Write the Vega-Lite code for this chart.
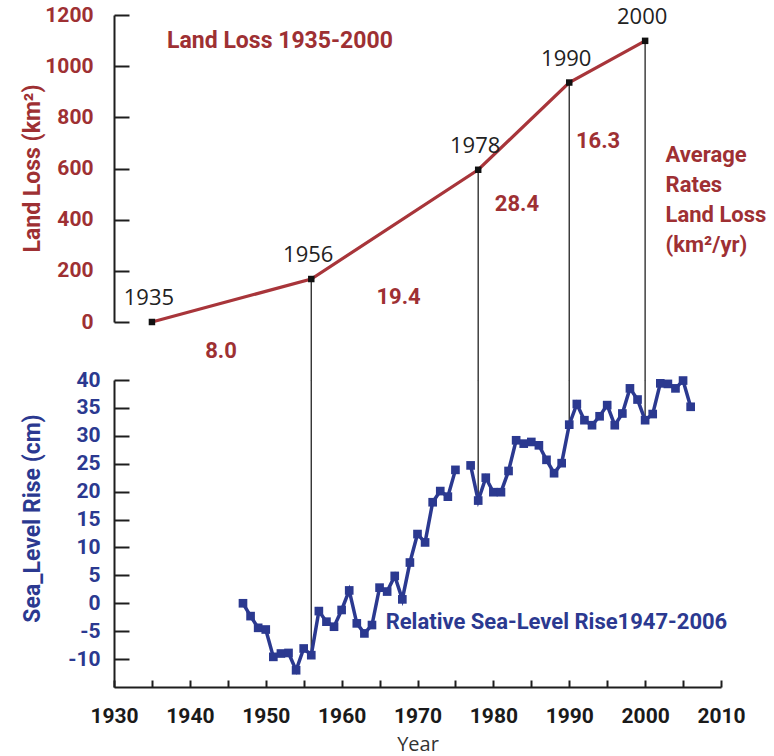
{
  "$schema": "https://vega.github.io/schema/vega-lite/v6.json",
  "autosize": {"type": "none"},
  "padding": {"left": 114, "top": 15, "right": 53, "bottom": 69},
  "width": 607,
  "height": 672,
  "background": "white",
  "config": {"view": {"stroke": null}, "font": "Roboto"},
  "datasets": {
    "landLoss": [
      {"year": 1935, "loss": 0},
      {"year": 1956, "loss": 168},
      {"year": 1978, "loss": 595},
      {"year": 1990, "loss": 936},
      {"year": 2000, "loss": 1099}
    ],
    "rates": [
      {"from": 1935, "to": 1956, "rate": 8.0, "year": 1944.1, "loss": -113},
      {"from": 1956, "to": 1978, "rate": 19.4, "year": 1967.5, "loss": 98},
      {"from": 1978, "to": 1990, "rate": 28.4, "year": 1983.1, "loss": 461},
      {"from": 1990, "to": 2000, "rate": 16.3, "year": 1993.8, "loss": 708}
    ],
    "landTitle": [{"note": "Land Loss 1935-2000", "year": 1937.0, "loss": 1098}],
    "rateCaption": [{"note": "Average\nRates\nLand Loss\n(km²/yr)", "year": 2002.7, "loss": 690}],
    "seaTitle": [{"note": "Relative Sea-Level Rise1947-2006", "year": 1965.8, "rise": -3.35}],
    "seaLevel": [
      {"year": 1947, "rise": 0.0}, {"year": 1948, "rise": -2.3}, {"year": 1949, "rise": -4.4},
      {"year": 1950, "rise": -4.7}, {"year": 1951, "rise": -9.6}, {"year": 1952, "rise": -9.0},
      {"year": 1953, "rise": -8.9}, {"year": 1954, "rise": -12.0}, {"year": 1955, "rise": -8.1},
      {"year": 1956, "rise": -9.3}, {"year": 1957, "rise": -1.4}, {"year": 1958, "rise": -3.3},
      {"year": 1959, "rise": -4.2}, {"year": 1960, "rise": -1.2}, {"year": 1961, "rise": 2.3},
      {"year": 1962, "rise": -3.6}, {"year": 1963, "rise": -5.4}, {"year": 1964, "rise": -3.9},
      {"year": 1965, "rise": 2.8}, {"year": 1966, "rise": 2.1}, {"year": 1967, "rise": 4.9},
      {"year": 1968, "rise": 0.7}, {"year": 1969, "rise": 7.3}, {"year": 1970, "rise": 12.4},
      {"year": 1971, "rise": 10.9}, {"year": 1972, "rise": 18.1}, {"year": 1973, "rise": 20.1},
      {"year": 1974, "rise": 19.1}, {"year": 1975, "rise": 23.9}, {"year": 1976, "rise": null},
      {"year": 1977, "rise": 24.7}, {"year": 1978, "rise": 18.4}, {"year": 1979, "rise": 22.5},
      {"year": 1980, "rise": 19.9}, {"year": 1981, "rise": 19.9}, {"year": 1982, "rise": 23.7},
      {"year": 1983, "rise": 29.2}, {"year": 1984, "rise": 28.6}, {"year": 1985, "rise": 28.9},
      {"year": 1986, "rise": 28.3}, {"year": 1987, "rise": 25.7}, {"year": 1988, "rise": 23.3},
      {"year": 1989, "rise": 25.1}, {"year": 1990, "rise": 32.0}, {"year": 1991, "rise": 35.7},
      {"year": 1992, "rise": 32.8}, {"year": 1993, "rise": 31.9}, {"year": 1994, "rise": 33.5},
      {"year": 1995, "rise": 35.5}, {"year": 1996, "rise": 31.9}, {"year": 1997, "rise": 34.0},
      {"year": 1998, "rise": 38.5}, {"year": 1999, "rise": 36.5}, {"year": 2000, "rise": 32.8},
      {"year": 2001, "rise": 33.9}, {"year": 2002, "rise": 39.4}, {"year": 2003, "rise": 39.3},
      {"year": 2004, "rise": 38.5}, {"year": 2005, "rise": 39.9}, {"year": 2006, "rise": 35.2}
    ]
  },
  "encoding": {
    "x": {
      "field": "year", "type": "quantitative", "title": "Year",
      "scale": {"domain": [1930, 2010], "nice": false, "zero": false},
      "axis": {
        "orient": "top", "offset": -672,
        "values": [1930, 1935, 1940, 1945, 1950, 1955, 1960, 1965, 1970, 1975, 1980, 1985, 1990, 1995, 2000, 2005, 2010],
        "labelExpr": "datum.value % 10 === 0 ? '' + datum.value : ''",
        "grid": false,
        "domainColor": "#1e1e1e", "domainWidth": 2,
        "tickColor": "#1e1e1e", "tickWidth": 2, "tickSize": 7,
        "labelPadding": -25, "labelBaseline": "top", "labelDx": -7, "labelFont": "Roboto", "labelFontWeight": "bold",
        "labelFontSize": 21, "labelColor": "#1a1a1a", "labelOverlap": false, "labelFlush": false, "labelBound": false,
        "titleFont": "Open Sans", "titleFontWeight": "normal", "titleFontSize": 20,
        "titleColor": "#333", "titleY": 57, "titleBaseline": "middle"
      }
    }
  },
  "layer": [
    {
      "encoding": {
        "y": {
          "field": "loss", "type": "quantitative", "title": "Land Loss (km²)",
          "scale": {"domain": [0, 1200], "range": [307, 0], "nice": false, "zero": false},
          "axis": {
            "orient": "right", "offset": -607,
            "values": [0, 200, 400, 600, 800, 1000, 1200], "grid": false,
            "labelExpr": "'' + datum.value",
            "domainColor": "#1e1e1e", "domainWidth": 2,
            "tickColor": "#1e1e1e", "tickWidth": 2, "tickSize": 15,
            "labelPadding": -36, "labelAlign": "right", "labelFont": "Roboto", "labelFontWeight": "bold",
            "labelFontSize": 21, "labelColor": "#9e3033", "labelOverlap": false, "labelFlush": false, "labelBound": false,
            "titleFont": "Roboto", "titleFontWeight": "bold", "titleFontSize": 23,
            "titleColor": "#9e3033", "titleAngle": 270, "titleBaseline": "bottom",
            "titleX": -70, "titleY": 153
          }
        }
      },
      "layer": [
        {
          "data": {"name": "landLoss"},
          "transform": [{"filter": {"field": "year", "oneOf": [1956, 1978, 1990, 2000]}}],
          "mark": {"type": "rule", "color": "#333", "strokeWidth": 1.4},
          "encoding": {"y2": {"datum": -228}}
        },
        {
          "data": {"name": "landLoss"},
          "mark": {"type": "line", "color": "#a8353a", "strokeWidth": 3.2},
          "encoding": {}
        },
        {
          "data": {"name": "landLoss"},
          "mark": {"type": "square", "color": "#111", "size": 42, "opacity": 1},
          "encoding": {}
        },
        {
          "data": {"name": "landLoss"},
          "mark": {"type": "text", "font": "Open Sans", "fontSize": 22, "color": "#222", "dy": -17, "dx": -3, "baseline": "alphabetic"},
          "encoding": {"text": {"field": "year", "type": "nominal"}}
        },
        {
          "data": {"name": "rates"},
          "mark": {"type": "text", "font": "Roboto", "fontWeight": "bold", "fontSize": 22, "color": "#9e3033", "baseline": "middle"},
          "encoding": {"text": {"field": "rate", "type": "quantitative", "format": ".1f"}}
        },
        {
          "data": {"name": "landTitle"},
          "mark": {"type": "text", "font": "Roboto", "fontWeight": "bold", "fontSize": 23, "color": "#9e3033", "align": "left", "baseline": "middle"},
          "encoding": {"text": {"field": "note", "type": "nominal"}}
        },
        {
          "data": {"name": "rateCaption"},
          "mark": {"type": "text", "font": "Roboto", "fontWeight": "bold", "fontSize": 22, "color": "#9e3033", "align": "left", "baseline": "top", "lineBreak": "\n", "lineHeight": 30},
          "encoding": {"text": {"field": "note", "type": "nominal"}}
        }
      ]
    },
    {
      "encoding": {
        "y": {
          "field": "rise", "type": "quantitative", "title": "Sea_Level Rise (cm)",
          "scale": {"domain": [-15, 40], "range": [672, 365], "nice": false, "zero": false},
          "axis": {
            "orient": "right", "offset": -607,
            "values": [-10, -5, 0, 5, 10, 15, 20, 25, 30, 35, 40], "grid": false,
            "labelExpr": "'' + datum.value",
            "domainColor": "#1e1e1e", "domainWidth": 2,
            "tickColor": "#1e1e1e", "tickWidth": 2, "tickSize": 15,
            "labelPadding": -29, "labelAlign": "right", "labelFont": "Roboto", "labelFontWeight": "bold",
            "labelFontSize": 21, "labelColor": "#2b3990", "labelOverlap": false, "labelFlush": false, "labelBound": false,
            "titleFont": "Roboto", "titleFontWeight": "bold", "titleFontSize": 23,
            "titleColor": "#2b3990", "titleAngle": 270, "titleBaseline": "bottom",
            "titleX": -70, "titleY": 503
          }
        }
      },
      "layer": [
        {
          "data": {"name": "seaLevel"},
          "transform": [{"filter": {"field": "year", "oneOf": [1956, 1978, 1990, 2000]}}],
          "mark": {"type": "rule", "color": "#333", "strokeWidth": 1.4},
          "encoding": {"y2": {"datum": 40}}
        },
        {
          "data": {"name": "seaLevel"},
          "mark": {"type": "line", "color": "#2b3990", "strokeWidth": 3.5, "invalid": "break-paths-filter-domains"},
          "encoding": {}
        },
        {
          "data": {"name": "seaLevel"},
          "mark": {"type": "square", "color": "#2b3990", "size": 75, "opacity": 1},
          "encoding": {}
        },
        {
          "data": {"name": "seaTitle"},
          "mark": {"type": "text", "font": "Roboto", "fontWeight": "bold", "fontSize": 22, "color": "#2b3990", "align": "left", "baseline": "middle"},
          "encoding": {"text": {"field": "note", "type": "nominal"}}
        }
      ]
    }
  ],
  "resolve": {"scale": {"y": "independent"}, "axis": {"y": "independent"}}
}
